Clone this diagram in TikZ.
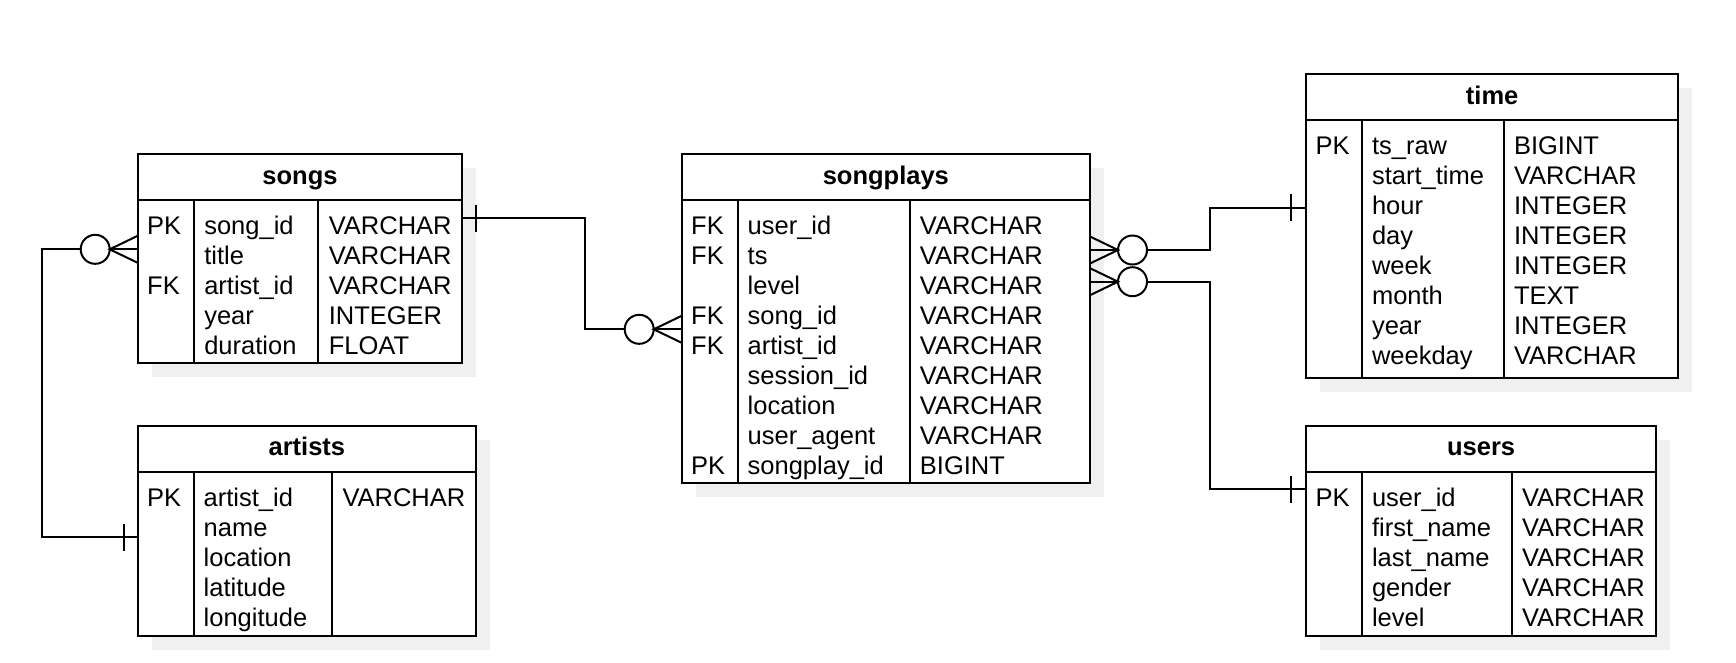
\documentclass[tikz,border=0pt]{standalone}
\usepackage{fontspec}
\setmainfont{Liberation Sans}
\usetikzlibrary{calc}
\tikzset{
  tablebox/.style={draw, line width=2pt, fill=white, inner sep=0pt, outer sep=0pt, anchor=north west},
  shadowbox/.style={fill=black!6},
  rule/.style={line width=2pt},
  cell/.style={anchor=base west, inner sep=0pt, outer sep=0pt, font=\fontsize{25.5}{30}\selectfont},
  ttl/.style={anchor=base, inner sep=0pt, outer sep=0pt, font=\fontsize{25.5}{30}\selectfont\bfseries},
  conn/.style={line width=2pt},
}
\begin{document}
\begin{tikzpicture}[x=1pt,y=-1pt]
\useasboundingbox[fill=white] (0,0) rectangle (1736,662);

% ---------- shadows ----------
\fill[shadowbox] (151.7,168) rectangle (476.3,377.3);
\fill[shadowbox] (695.7,168) rectangle (1104,497.3);
\fill[shadowbox] (1320,88) rectangle (1692.3,391.7);
\fill[shadowbox] (1320,439.7) rectangle (1670.2,650);
\fill[shadowbox] (151.7,439.7) rectangle (490,650);

% ---------- songs ----------
\node[tablebox, minimum width=324.6pt, minimum height=209.3pt] (songs) at (137.7,154) {};
\draw[rule] (137.7,200) -- (462.3,200);
\draw[rule] (194.3,200) -- (194.3,363.3);
\draw[rule] (318.3,200) -- (318.3,363.3);
\node[ttl] (songs-t) at (300,184.2) {songs};
\foreach \k/\f/\t [count=\i from 0] in {PK/song\_id/VARCHAR, {}/title/VARCHAR, FK/artist\_id/VARCHAR, {}/year/INTEGER, {}/duration/FLOAT} {
  \node[cell] (songs-k\i) at (147.2,234.3+30*\i) {\k};
  \node[cell] (songs-f\i) at (204.3,234.3+30*\i) {\f};
  \node[cell] (songs-y\i) at (328.8,234.3+30*\i) {\t};
}

% ---------- songplays ----------
\node[tablebox, minimum width=408.3pt, minimum height=329.3pt] (songplays) at (681.7,154) {};
\draw[rule] (681.7,200) -- (1090,200);
\draw[rule] (737.7,200) -- (737.7,483.3);
\draw[rule] (909.7,200) -- (909.7,483.3);
\node[ttl] (songplays-t) at (885.85,184.2) {songplays};
\foreach \k/\f/\t [count=\i from 0] in {FK/user\_id/VARCHAR, FK/ts/VARCHAR, {}/level/VARCHAR, FK/song\_id/VARCHAR, FK/artist\_id/VARCHAR, {}/session\_id/VARCHAR, {}/location/VARCHAR, {}/user\_agent/VARCHAR, PK/songplay\_id/BIGINT} {
  \node[cell] (songplays-k\i) at (691.2,234.3+30*\i) {\k};
  \node[cell] (songplays-f\i) at (747.7,234.3+30*\i) {\f};
  \node[cell] (songplays-y\i) at (919.9,234.3+30*\i) {\t};
}

% ---------- time ----------
\node[tablebox, minimum width=372.3pt, minimum height=303.7pt] (time) at (1306,74) {};
\draw[rule] (1306,120.3) -- (1678.3,120.3);
\draw[rule] (1362,120.3) -- (1362,377.7);
\draw[rule] (1503.9,120.3) -- (1503.9,377.7);
\node[ttl] (time-t) at (1492.15,104.4) {time};
\foreach \k/\f/\t [count=\i from 0] in {PK/ts\_raw/BIGINT, {}/start\_time/VARCHAR, {}/hour/INTEGER, {}/day/INTEGER, {}/week/INTEGER, {}/month/TEXT, {}/year/INTEGER, {}/weekday/VARCHAR} {
  \node[cell] (time-k\i) at (1315.5,154.3+30*\i) {\k};
  \node[cell] (time-f\i) at (1372,154.3+30*\i) {\f};
  \node[cell] (time-y\i) at (1514,154.3+30*\i) {\t};
}

% ---------- users ----------
\node[tablebox, minimum width=350.2pt, minimum height=210.3pt] (users) at (1306,425.7) {};
\draw[rule] (1306,471.7) -- (1656.2,471.7);
\draw[rule] (1362,471.7) -- (1362,636);
\draw[rule] (1511.8,471.7) -- (1511.8,636);
\node[ttl] (users-t) at (1481.1,455.9) {users};
\foreach \k/\f/\t [count=\i from 0] in {PK/user\_id/VARCHAR, {}/first\_name/VARCHAR, {}/last\_name/VARCHAR, {}/gender/VARCHAR, {}/level/VARCHAR} {
  \node[cell] (users-k\i) at (1315.5,506.9+30*\i) {\k};
  \node[cell] (users-f\i) at (1372,506.9+30*\i) {\f};
  \node[cell] (users-y\i) at (1522,506.9+30*\i) {\t};
}

% ---------- artists ----------
\node[tablebox, minimum width=338.3pt, minimum height=210.3pt] (artists) at (137.7,425.7) {};
\draw[rule] (137.7,471.7) -- (476,471.7);
\draw[rule] (193.7,471.7) -- (193.7,636);
\draw[rule] (332,471.7) -- (332,636);
\node[ttl] (artists-t) at (306.85,455.9) {artists};
\foreach \k/\f/\t [count=\i from 0] in {PK/artist\_id/VARCHAR, {}/name/{}, {}/location/{}, {}/latitude/{}, {}/longitude/{}} {
  \node[cell] (artists-k\i) at (147.2,506.9+30*\i) {\k};
  \node[cell] (artists-f\i) at (203.7,506.9+30*\i) {\f};
  \node[cell] (artists-y\i) at (342.5,506.9+30*\i) {\t};
}

% ---------- attach points ----------
\coordinate (sa) at ($(songs.north west)+(0,95.3)$);
\coordinate (aa) at ($(artists.north west)+(0,111.6)$);
\coordinate (ss) at ($(songs.north east)+(0,64.3)$);
\coordinate (sp) at ($(songplays.north west)+(0,175.3)$);
\coordinate (pt) at ($(songplays.north east)+(0,96)$);
\coordinate (tt) at ($(time.north west)+(0,133.7)$);
\coordinate (pu) at ($(songplays.north east)+(0,127.7)$);
\coordinate (uu) at ($(users.north west)+(0,63.6)$);

% songs (many) -- artists (one)
\draw[conn] ($(sa)+(0,-13.5)$) -- ($(sa)+(-28,0)$) -- ($(sa)+(0,13.5)$);
\draw[conn] (sa) -- ($(sa)+(-28,0)$);
\draw[conn] ($(sa)+(-42.5,0)$) circle[radius=14.5pt];
\draw[conn] ($(sa)+(-57,0)$) -| ($(aa)+(-96,0)$) -- (aa);
\draw[conn] ($(aa)+(-14,-13.3)$) -- ($(aa)+(-14,13.3)$);

% songs (one) -- songplays (many)
\draw[conn] ($(ss)+(13.4,-13.3)$) -- ($(ss)+(13.4,13.3)$);
\draw[conn] (ss) -| ($(sp)+(-96.7,0)$) -- ($(sp)+(-57,0)$);
\draw[conn] ($(sp)+(-42.5,0)$) circle[radius=14.5pt];
\draw[conn] ($(sp)+(0,-13.5)$) -- ($(sp)+(-28,0)$) -- ($(sp)+(0,13.5)$);
\draw[conn] (sp) -- ($(sp)+(-28,0)$);

% songplays (many) -- time (one)
\draw[conn] ($(pt)+(0,-13.5)$) -- ($(pt)+(28,0)$) -- ($(pt)+(0,13.5)$);
\draw[conn] (pt) -- ($(pt)+(28,0)$);
\draw[conn] ($(pt)+(42.5,0)$) circle[radius=14.5pt];
\draw[conn] ($(pt)+(57,0)$) -| ($(tt)+(-96.3,0)$) -- (tt);
\draw[conn] ($(tt)+(-14.7,-13.3)$) -- ($(tt)+(-14.7,13.3)$);

% songplays (many) -- users (one)
\draw[conn] ($(pu)+(0,-13.5)$) -- ($(pu)+(28,0)$) -- ($(pu)+(0,13.5)$);
\draw[conn] (pu) -- ($(pu)+(28,0)$);
\draw[conn] ($(pu)+(42.5,0)$) circle[radius=14.5pt];
\draw[conn] ($(pu)+(57,0)$) -| ($(uu)+(-96.3,0)$) -- (uu);
\draw[conn] ($(uu)+(-14.7,-13.3)$) -- ($(uu)+(-14.7,13.3)$);
\end{tikzpicture}
\end{document}
